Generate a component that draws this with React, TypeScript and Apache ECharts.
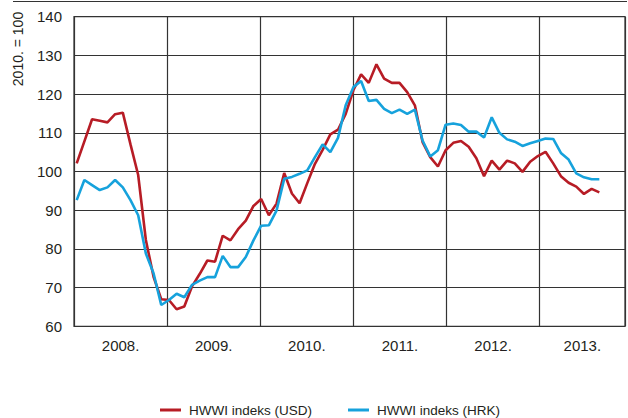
import React, { useEffect, useRef } from "react";
import * as echarts from "echarts";

// Monthly index values, Jan 2008 – Sep 2013
const HWWI_USD = [
  102.1, 107.8, 113.5, 113.1, 112.7, 114.8, 115.2, 107.0, 99.1, 82.3, 72.8, 67.0,
  66.8, 64.4, 65.1, 70.3, 73.5, 77.0, 76.7, 83.4, 82.2, 85.1, 87.3, 91.1,
  92.9, 88.7, 91.7, 99.6, 94.3, 91.8, 97.0, 102.0, 105.6, 109.6, 110.8, 114.9,
  121.0, 125.1, 122.9, 127.7, 124.0, 122.9, 122.9, 120.5, 117.1, 107.6, 103.7, 101.3,
  105.5, 107.4, 107.9, 106.4, 103.4, 98.8, 102.8, 100.5, 102.8, 102.1, 99.9, 102.5,
  104.0, 105.1, 102.1, 98.8, 97.1, 96.1, 94.2, 95.5, 94.6,
];
const HWWI_HRK = [
  92.6, 97.8, 96.5, 95.2, 95.9, 97.8, 95.9, 92.6, 88.7, 78.8, 73.7, 65.5,
  66.8, 68.4, 67.5, 70.7, 71.8, 72.7, 72.7, 78.2, 75.3, 75.3, 77.9, 82.2,
  86.0, 86.1, 89.9, 98.1, 98.6, 99.4, 100.3, 103.7, 107.0, 105.0, 108.7, 117.1,
  121.8, 123.4, 118.2, 118.5, 116.2, 115.1, 116.0, 114.9, 116.0, 108.0, 103.9, 105.5,
  112.1, 112.4, 112.0, 110.3, 110.3, 108.8, 114.0, 110.0, 108.3, 107.7, 106.6, 107.3,
  107.9, 108.5, 108.4, 104.8, 103.1, 99.5, 98.5, 98.0, 98.0,
];
const SERIES_NAMES = ["HWWI indeks (USD)", "HWWI indeks (HRK)"];
const YEAR_LABELS = ["2008.", "2009.", "2010.", "2011.", "2012.", "2013."];
const YEAR_MONTHS = [12, 12, 12, 12, 12, 11]; // months shown per year on the axis
const Y_MIN = 60;
const Y_MAX = 140;
const Y_STEP = 10;
const Y_TITLE = "2010. = 100";

const FONT = "'Liberation Sans', Arial, sans-serif";
const TEXT = "#231f20";
const GRID = "#333333";
const RED = "#b71c25";
const BLUE = "#16a2dc";

export default function App() {
  const ref = useRef<HTMLDivElement>(null);

  useEffect(() => {
    document.body.style.margin = "0";
    if (!ref.current) return;
    const chart = echarts.init(ref.current, undefined, { renderer: "svg" });

    const totalMonths = YEAR_MONTHS.reduce((a, b) => a + b, 0);
    const yearCenter: Record<string, string> = {};
    let start = 0;
    YEAR_MONTHS.forEach((m, i) => {
      yearCenter[String(start + m / 2)] = YEAR_LABELS[i];
      start += m;
    });

    const toPairs = (arr: number[]) => arr.map((v, i) => [i, v]);
    const n = HWWI_USD.length;

    chart.setOption({
      animation: false,
      grid: {
        left: 74,
        top: 16.7,
        width: 552,
        height: 309.6,
        show: true,
        borderColor: GRID,
        borderWidth: 1.2,
      },
      xAxis: [
        {
          type: "value",
          min: 0,
          max: totalMonths,
          interval: 12,
          axisLine: { show: false },
          axisTick: { show: false },
          axisLabel: { show: false },
          splitLine: { show: true, lineStyle: { color: GRID, width: 1.2 } },
        },
        {
          type: "value",
          min: 0,
          max: totalMonths,
          interval: 0.5,
          position: "bottom",
          axisLine: { show: false },
          axisTick: { show: false },
          splitLine: { show: false },
          axisLabel: {
            formatter: (v: number) => yearCenter[String(v)] ?? "",
            fontSize: 15,
            fontFamily: FONT,
            color: TEXT,
            margin: 12,
          },
        },
        {
          type: "value",
          min: -0.35,
          max: n - 1 + 3.34,
          show: false,
        },
      ],
      yAxis: {
        type: "value",
        min: Y_MIN,
        max: Y_MAX,
        interval: Y_STEP,
        axisLine: { show: false },
        axisTick: { show: false },
        splitLine: { lineStyle: { color: GRID, width: 1.2 } },
        axisLabel: { fontSize: 15, fontFamily: FONT, color: TEXT, margin: 12 },
      },
      legend: {
        left: 155,
        top: 398,
        icon: "rect",
        itemWidth: 21,
        itemHeight: 3,
        itemGap: 36,
        textStyle: { fontSize: 13.5, fontFamily: FONT, color: TEXT, padding: [0, 0, 0, 3] },
        data: SERIES_NAMES,
      },
      series: [
        {
          name: SERIES_NAMES[0],
          type: "line",
          xAxisIndex: 2,
          data: toPairs(HWWI_USD),
          symbol: "none",
          color: RED,
          lineStyle: { color: RED, width: 2.6 },
        },
        {
          name: SERIES_NAMES[1],
          type: "line",
          xAxisIndex: 2,
          data: toPairs(HWWI_HRK),
          symbol: "none",
          color: BLUE,
          lineStyle: { color: BLUE, width: 2.6 },
        },
      ],
      graphic: [
        {
          type: "line",
          shape: { x1: 13, y1: 1.5, x2: 627, y2: 1.5 },
          style: { stroke: GRID, lineWidth: 1.2 },
        },
        {
          type: "text",
          x: 18,
          y: 49,
          rotation: Math.PI / 2,
          style: {
            text: Y_TITLE,
            fontSize: 14,
            fontFamily: FONT,
            fill: TEXT,
            align: "center",
            verticalAlign: "middle",
          },
        },
      ],
    });

    return () => chart.dispose();
  }, []);

  return <div ref={ref} style={{ width: 628, height: 418 }} />;
}
